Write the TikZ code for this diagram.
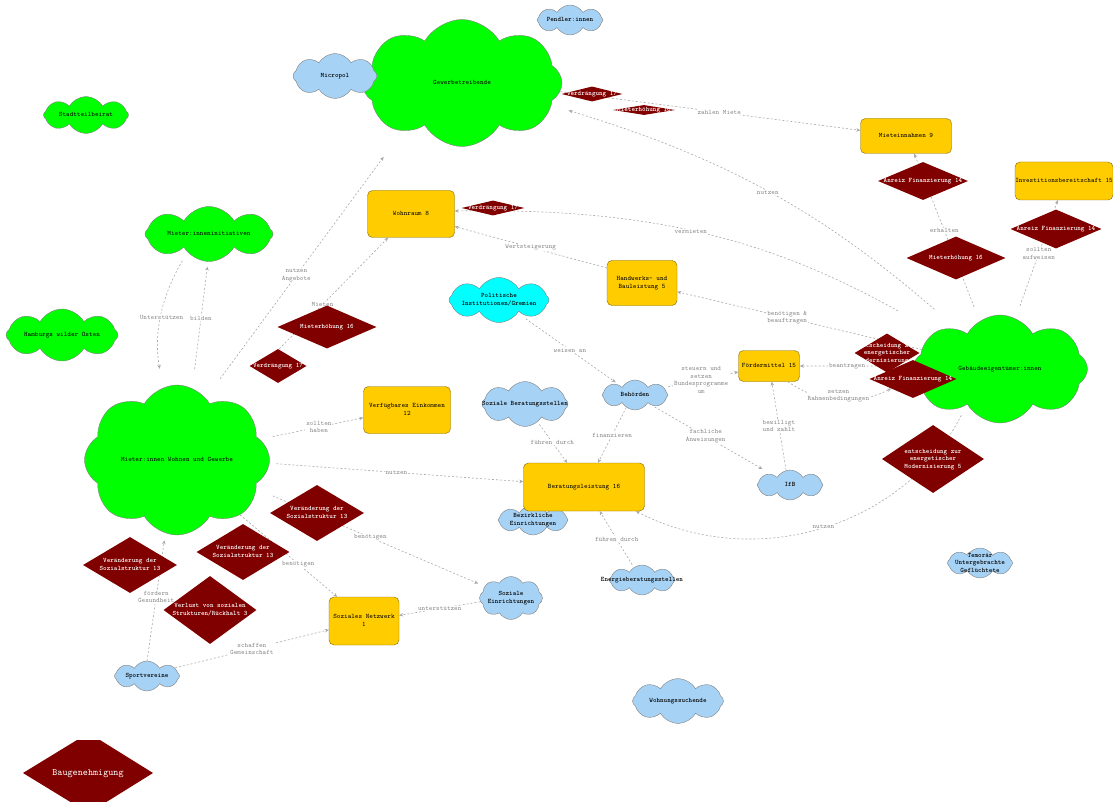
\documentclass[tikz,border=0pt]{standalone}
\usepackage{fontspec}
\usetikzlibrary{shapes.symbols,shapes.geometric,arrows.meta,backgrounds}

\definecolor{cgreen}{HTML}{00FF00}
\definecolor{cblue}{HTML}{A6D2F5}
\definecolor{ccyan}{HTML}{00FFFF}
\definecolor{cyellow}{HTML}{FFCC00}
\definecolor{cred}{HTML}{800000}
\definecolor{cloudline}{HTML}{808080}
\definecolor{boxline}{HTML}{806600}
\definecolor{linegray}{HTML}{A8A8A8}
\definecolor{labgray}{HTML}{8A8A8A}

\newcommand{\nodefont}{\ttfamily\fontsize{6.8}{7.5}\selectfont}
\newcommand{\nodefontb}{\ttfamily\bfseries\fontsize{6.8}{7.5}\selectfont}
\newcommand{\ctext}[1]{\makebox[0pt]{\begin{tabular}{@{}c@{}}#1\end{tabular}}}

\tikzset{
  sz/.style 2 args={minimum width=#1pt, minimum height=#2pt},
  gcloud/.style={cloud, cloud puffs=8, cloud puff arc=120, cloud ignores aspect,
    draw=cloudline, fill=cgreen, inner sep=0pt, font=\nodefont},
  bcloud/.style={gcloud, fill=cblue, font=\nodefontb},
  ccloud/.style={bcloud, fill=ccyan},
  ybox/.style={rectangle, rounded corners=5pt, draw=boxline, fill=cyellow,
    inner sep=0pt, font=\nodefont},
  rdia/.style={diamond, fill=cred, text=white, inner sep=0pt, font=\nodefontb},
  rel/.style={draw=linegray, dash pattern=on 2pt off 2pt, line width=0.6pt,
    -{Stealth[length=4pt,width=3.5pt]}},
  lab/.style={font=\nodefont, text=labgray, fill=white, inner sep=0.8pt, align=center}
}

\begin{document}
\begin{tikzpicture}[x=1pt, y=-1pt]
\useasboundingbox (0,0) rectangle (1113,802);

% akteure
\node[gcloud, sz={200}{127}] (gew) at (462,83) {\ctext{Gewerbetreibende}};
\node[gcloud, sz={185}{150}] (mwg) at (177,460) {\ctext{Mieter:innen Wohnen und Gewerbe}};
\node[gcloud, sz={175}{108}] (geb) at (1000,369) {\ctext{Gebäudeeigentümer:innen}};
\node[gcloud, sz={128}{55}] (init) at (209,234) {\ctext{Mieter:inneninitiativen}};
\node[gcloud, sz={85}{37}] (stb) at (86,115) {\ctext{Stadtteilbeirat}};
\node[gcloud, sz={112}{52}] (hwo) at (62,335) {\ctext{Hamburgs wilder Osten}};

\node[bcloud, sz={66}{30}] (pend) at (570,20) {\ctext{Pendler:innen}};
\node[bcloud, sz={84}{45}] (micro) at (335,76) {\ctext{Micropol}};
\node[bcloud, sz={86}{45}] (sozb) at (525,404) {\ctext{Soziale Beratungsstellen}};
\node[bcloud, sz={66}{30}] (beh) at (635,395) {\ctext{Behörden}};
\node[bcloud, sz={66}{30}] (ifb) at (790,485) {\ctext{IfB}};
\node[bcloud, sz={70}{30}] (bez) at (533,520) {\ctext{Bezirkliche\\Einrichtungen}};
\node[bcloud, sz={63}{43}] (soze) at (511,598) {\ctext{Soziale\\Einrichtungen}};
\node[bcloud, sz={65}{30}] (sport) at (147,676) {\ctext{Sportvereine}};
\node[bcloud, sz={65}{30}] (energ) at (642,580) {\ctext{Energieberatungsstellen}};
\node[bcloud, sz={65}{30}] (gefl) at (980,563) {\ctext{Temorär\\Untergebrachte\\Geflüchtete}};
\node[bcloud, sz={91}{45}] (wsu) at (678,701) {\ctext{Wohnungssuchende}};
\node[ccloud, sz={100}{45}] (pol) at (499,300) {\ctext{Politische\\Institutionen/Gremien}};

% faktoren
\node[ybox, sz={91}{35}] (mein) at (906,136) {\ctext{Mieteinnahmen 9}};
\node[ybox, sz={98}{38}] (inv) at (1064,181) {\ctext{Investitionsbereitschaft 15}};
\node[ybox, sz={87}{47}] (wohn) at (411,214) {\ctext{Wohnraum 8}};
\node[ybox, sz={70}{45}] (hand) at (642,283) {\ctext{Handwerks- und\\Bauleistung 5}};
\node[ybox, sz={61}{31}] (foerd) at (769,366) {\ctext{Fördermittel 15}};
\node[ybox, sz={87}{47}] (verf) at (407,410) {\ctext{Verfügbares Einkommen\\12}};
\node[ybox, sz={121}{48}] (ber) at (584,487) {\ctext{Beratungsleistung 16}};
\node[ybox, sz={70}{48}] (netz) at (364,621) {\ctext{Soziales Netzwerk\\1}};

% einfluesse
\node[rdia, sz={61}{15}] (vd1) at (592,94) {\ctext{Verdrängung 17}};
\node[rdia, sz={62}{10}] (mh1) at (644,110) {\ctext{Mieterhöhung 16}};
\node[rdia, sz={63}{15}] (vd2) at (493,208) {\ctext{Verdrängung 17}};
\node[rdia, sz={99}{43}] (mh2) at (327,327) {\ctext{Mieterhöhung 16}};
\node[rdia, sz={57}{34}] (vd3) at (278,366) {\ctext{Verdrängung 17}};
\node[rdia, sz={90}{38}] (af1) at (923,181) {\ctext{Anreiz Finanzierung 14}};
\node[rdia, sz={99}{43}] (mh3) at (956,258) {\ctext{Mieterhöhung 16}};
\node[rdia, sz={91}{39}] (af2) at (1056,229) {\ctext{Anreiz Finanzierung 14}};
\node[rdia, sz={65}{39}] (em1) at (887,353) {\ctext{entscheidung zur\\energetischer\\Modernisierung 5}};
\node[rdia, sz={87}{38}] (af3) at (913,379) {\ctext{Anreiz Finanzierung 14}};
\node[rdia, sz={102}{68}] (em2) at (933,459) {\ctext{entscheidung zur\\energetischer\\Modernisierung 5}};
\node[rdia, sz={94}{56}] (vs1) at (317,513) {\ctext{Veränderung der\\Sozialstruktur 13}};
\node[rdia, sz={93}{56}] (vs2) at (243,552) {\ctext{Veränderung der\\Sozialstruktur 13}};
\node[rdia, sz={94}{56}] (vs3) at (130,565) {\ctext{Veränderung der\\Sozialstruktur 13}};
\node[rdia, sz={93}{68}] (vl) at (210,610) {\ctext{Verlust von sozialen\\Strukturen/Rückhalt 3}};

\fill[cred] (23,773) -- (77,740) -- (100,740) -- (153,773) -- (100,806) -- (77,806) -- cycle;
\node[text=white, font=\ttfamily\fontsize{9.7}{11}\selectfont] (baug) at (88,774) {Baugenehmigung};

% beziehungen
\begin{scope}[on background layer]
\draw[rel, shorten <=19pt, shorten >=5pt] (mwg.78) -- node[lab, pos=0.55]{bilden} (init.268);
\draw[rel, shorten <=10pt, shorten >=19pt] (init.220) to[bend right=20] node[lab]{Unterstützen} (mwg.101);
\draw[rel, shorten <=24pt, shorten >=32pt] (mwg.65) -- node[lab, pos=0.46]{nutzen\\Angebote} (gew.219);
\draw[rel, shorten <=45pt] (mwg.49) -- node[lab, pos=0.59]{Mieten} (wohn.226);
\draw[rel, shorten <=15pt] (geb.113) -- node[lab, pos=0.54]{erhalten} (mein.295);
\draw[rel, shorten <=13pt] (geb.73) -- node[lab, pos=0.55]{sollten\\aufweisen} (inv.252);
\draw[rel] (gew.355) -- node[lab, pos=0.53]{zahlen Miete} (mein.173);
\draw[rel, shorten <=30pt, shorten >=18pt] (geb.137) to[bend right=12] node[lab]{nutzen} (gew.346);
\draw[rel, shorten <=43pt] (geb.150) to[bend right=15] node[lab, pos=0.53]{vermieten} (wohn.4);
\draw[rel] (hand.157) -- node[lab]{Wertsteigerung} (wohn.344);
\draw[rel] (geb.166) -- node[lab, pos=0.55]{benötigen \&\\beauftragen} (hand.346);
\draw[rel] (geb.178) -- node[lab, pos=0.58]{beantragen} (foerd.east);
\draw[rel] (foerd.320) to[bend right=30] node[lab, above=-3pt]{setzen\\Rahmenbedingungen} (af3.south west);
\draw[rel, shorten <=4pt] (beh.14) -- node[lab]{steuern und\\setzen\\Bundesprogramme\\um} (foerd.191);
\draw[rel] (ifb.105) -- node[lab]{bewilligt\\und zahlt} (foerd.280);
\draw[rel, shorten <=10pt, shorten >=8pt] (pol.325) -- node[lab]{weisen an} (beh.148);
\draw[rel, shorten <=8pt, shorten >=10pt] (beh.328) -- node[lab, pos=0.47]{fachliche\\Anweisungen} (ifb.150);
\draw[rel] (beh.235) -- node[lab]{finanzieren} (ber.60);
\draw[rel, shorten <=3pt] (sozb.305) -- node[lab]{führen durch} (ber.125);
\draw[rel, shorten <=7pt] (mwg.358) -- node[lab]{nutzen} (ber.175);
\draw[rel, shorten <=13pt] (mwg.14) -- node[lab, pos=0.57]{sollten\\haben} (verf.190);
\draw[rel, shorten <=3pt] (energ.123) -- node[lab]{führen durch} (ber.303);
\draw[rel, shorten <=12pt] (geb.227) to[bend left=45] node[lab]{nutzen} (ber.335);
\draw[rel, shorten <=18pt, shorten >=7pt] (mwg.340) -- node[lab]{benötigen} (soze.156);
\draw[rel] (mwg.319) -- node[lab, pos=0.6]{benötigen} (netz.138);
\draw[rel, shorten >=7pt] (sport.north) -- node[lab]{fördern\\Gesundheit} (mwg.261);
\draw[rel] (sport.16) -- node[lab]{schaffen\\Gemeinschaft} (netz.194);
\draw[rel] (soze.187) -- node[lab]{unterstützen} (netz.9);
\end{scope}
\end{tikzpicture}
\end{document}
